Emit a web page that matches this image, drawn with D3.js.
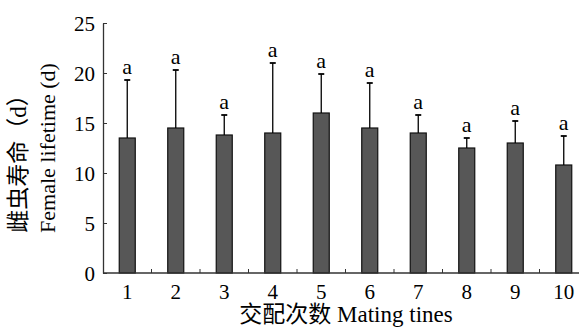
<!DOCTYPE html>
<html><head><meta charset="utf-8">
<script src="https://cdn.jsdelivr.net/npm/d3@7"></script>
<style>body{margin:0;background:#fff}svg{display:block}
text{font-family:"Liberation Serif","Times New Roman","DejaVu Serif",serif;}
.cjk{font-family:"Liberation Serif","Noto Sans CJK SC",serif;}
</style>
</head><body>
<svg id="c" width="579" height="329"></svg>
<script>
const categories = ["1","2","3","4","5","6","7","8","9","10"];
const means = [13.5, 14.5, 13.8, 14.0, 16.0, 14.5, 14.0, 12.5, 13.0, 10.8];
const errTops = [19.3, 20.3, 15.8, 21.0, 19.9, 19.0, 15.8, 13.5, 15.2, 13.7];
const letters = ["a","a","a","a","a","a","a","a","a","a"];
const yTicks = [0, 5, 10, 15, 20, 25];

const svg = d3.select("#c");
const x = d3.scaleBand().domain(categories).range([103, 588]).paddingInner(0.67).paddingOuter(0.335);
const y = d3.scaleLinear().domain([0, 25]).range([273, 23]);
const axisColor = "#333";

// y axis
const ya = svg.append("g").attr("transform", "translate(103,0)")
  .call(d3.axisLeft(y).tickValues(yTicks).tickSizeInner(-4).tickSizeOuter(0).tickPadding(8));
ya.attr("font-family", null);
ya.select(".domain").attr("stroke", axisColor).attr("stroke-width", 1.3);
ya.selectAll(".tick line").attr("stroke", axisColor);
ya.selectAll(".tick text").style("font-size", "21px").attr("fill", "#000").attr("dy", "0.34em");

// bars
svg.append("g").selectAll("rect").data(categories).join("rect")
  .attr("x", (d) => x(d)).attr("width", x.bandwidth())
  .attr("y", (d, i) => y(means[i])).attr("height", (d, i) => y(0) - y(means[i]))
  .attr("fill", "#575757").attr("stroke", "#111").attr("stroke-width", 1.2);

// error bars
const eg = svg.append("g").attr("stroke", "#000").attr("stroke-width", 1.3);
categories.forEach((c, i) => {
  const cx = x(c) + x.bandwidth() / 2;
  eg.append("line").attr("x1", cx).attr("x2", cx).attr("y1", y(means[i])).attr("y2", y(errTops[i]));
  eg.append("line").attr("x1", cx - 3).attr("x2", cx + 3).attr("y1", y(errTops[i])).attr("y2", y(errTops[i])).attr("stroke-width", 1.8);
});

// letters
svg.append("g").selectAll("text").data(categories).join("text")
  .attr("x", (d) => x(d) + x.bandwidth() / 2).attr("y", (d, i) => y(errTops[i]) - 6)
  .attr("text-anchor", "middle").style("font-size", "22px")
  .text((d, i) => letters[i]);

// x axis
const xa = svg.append("g").attr("transform", "translate(0,273)")
  .call(d3.axisBottom(x).tickSize(0).tickPadding(11));
xa.attr("font-family", null);
xa.select(".domain").remove();
xa.selectAll(".tick text").style("font-size", "21px").attr("fill", "#000");
svg.append("line").attr("x1", 103).attr("x2", 588).attr("y1", 273).attr("y2", 273)
  .attr("stroke", axisColor).attr("stroke-width", 1.3);
// separator ticks between bands
const sepX = (d) => x(d) - (x.step() - x.bandwidth()) / 2;
svg.append("g").selectAll("line").data(categories.slice(1)).join("line")
  .attr("x1", sepX).attr("x2", sepX)
  .attr("y1", 273).attr("y2", 269).attr("stroke", axisColor);

// axis titles
svg.append("text").attr("class", "cjk").attr("x", 346).attr("y", 322).attr("text-anchor", "middle")
  .style("font-size", "23px").text("交配次数 Mating tines");
const yt = svg.append("g").attr("transform", "translate(0,148) rotate(-90)");
yt.append("text").attr("class", "cjk").attr("x", -10).attr("y", 26).attr("text-anchor", "middle")
  .style("font-size", "23px").text("雌虫寿命（d）");
yt.append("text").attr("x", 0).attr("y", 55).attr("text-anchor", "middle")
  .style("font-size", "22px").text("Female lifetime (d)");
</script>
</body></html>
